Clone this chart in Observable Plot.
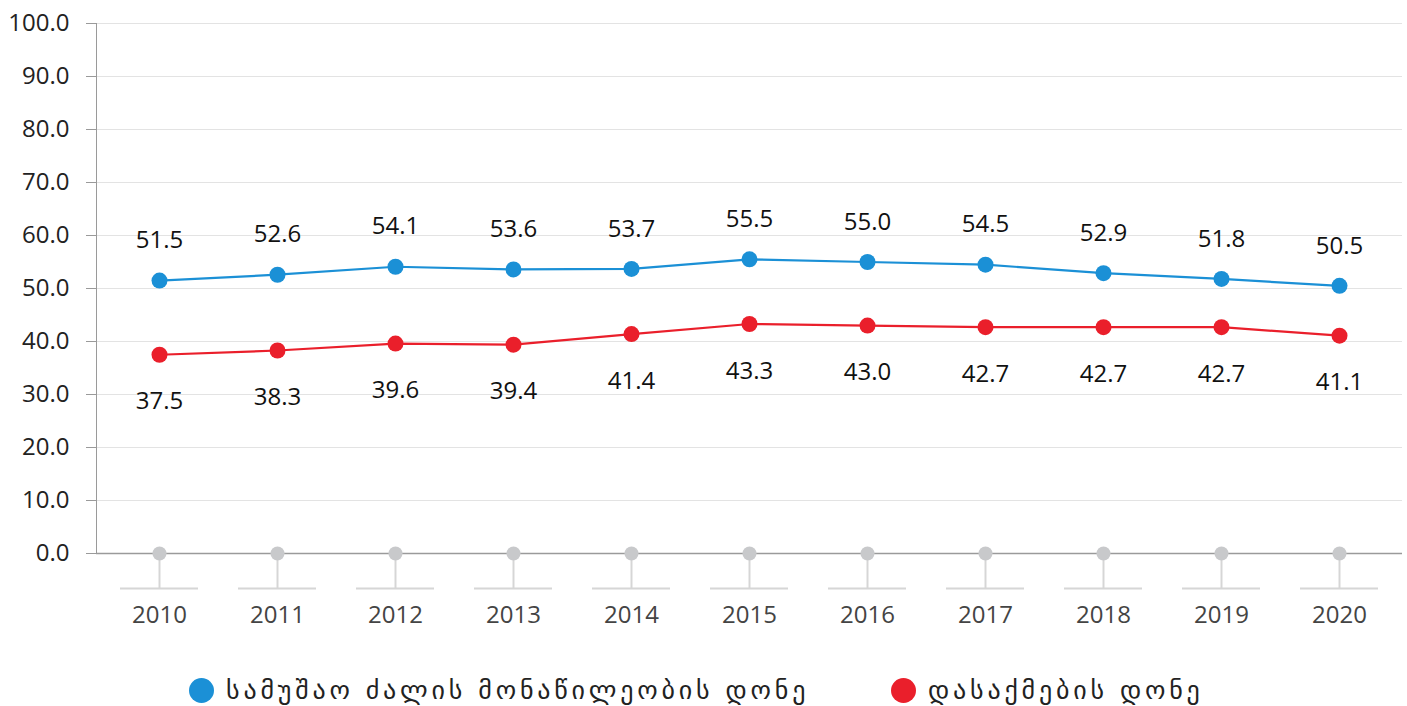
<!DOCTYPE html>
<html>
<head>
<meta charset="utf-8">
<script src="https://cdn.jsdelivr.net/npm/d3@7"></script>
<script src="https://cdn.jsdelivr.net/npm/@observablehq/plot@0.6"></script>
<style>
  html, body { margin: 0; padding: 0; background: #fff; }
  #chart { width: 1407px; }
  .legend { position: relative; height: 56px; font-family: "DejaVu Sans", "Noto Sans", sans-serif; font-size: 26px; letter-spacing: 3.8px; color: #222; }
  .item { position: absolute; top: 25px; display: flex; align-items: center; white-space: nowrap; }
  .sw { width: 25px; height: 25px; border-radius: 50%; margin-right: 12px; }
</style>
</head>
<body>
<div id="chart"></div>
<script>
const years = ["2010","2011","2012","2013","2014","2015","2016","2017","2018","2019","2020"];
const participation = [51.5, 52.6, 54.1, 53.6, 53.7, 55.5, 55.0, 54.5, 52.9, 51.8, 50.5];
const employment = [37.5, 38.3, 39.6, 39.4, 41.4, 43.3, 43.0, 42.7, 42.7, 42.7, 41.1];
const yTicks = [0, 10, 20, 30, 40, 50, 60, 70, 80, 90, 100];
const seriesNames = ["სამუშაო ძალის მონაწილეობის დონე", "დასაქმების დონე"];
const seriesColors = ["#1b90d6", "#ea1f2b"];

const blue = years.map((y, i) => ({year: y, value: participation[i]}));
const red = years.map((y, i) => ({year: y, value: employment[i]}));

const font = "'Open Sans', 'Noto Sans', sans-serif";

const chart = Plot.plot({
  width: 1407,
  height: 650,
  marginLeft: 96,
  marginRight: 5,
  marginTop: 23,
  marginBottom: 97,
  style: {fontFamily: font, fontSize: "24px", background: "#fff"},
  x: {type: "band", domain: years, paddingInner: 0, paddingOuter: 0},
  y: {domain: [0, 100]},
  marks: [
    Plot.ruleY(yTicks, {stroke: "#e3e3e3", strokeWidth: 1.2}),
    Plot.axisY({ticks: yTicks, tickFormat: d => d.toFixed(1), tickSize: 10, tickPadding: 17, stroke: "#9a9a9a", fill: "#222", fontSize: 24, label: null}),
    Plot.frame({anchor: "left", stroke: "#9a9a9a"}),
    Plot.ruleY([0], {stroke: "#9a9a9a", strokeWidth: 1.5}),
    Plot.ruleX(years, {x: d => d, y1: 0, y2: -6.6, stroke: "#d6d6d6", strokeWidth: 2}),
    Plot.tickY(years, {x: d => d, y: -6.6, stroke: "#d6d6d6", strokeWidth: 2, insetLeft: 20, insetRight: 20}),
    Plot.dot(years, {x: d => d, y: 0, r: 7, fill: "#c8c9cb"}),
    Plot.axisX({tickSize: 0, tickPadding: 52, fill: "#444", fontSize: 24, label: null}),
    Plot.lineY(blue, {x: "year", y: "value", stroke: seriesColors[0], strokeWidth: 2.2}),
    Plot.lineY(red, {x: "year", y: "value", stroke: seriesColors[1], strokeWidth: 2.2}),
    Plot.dot(blue, {x: "year", y: "value", r: 8, fill: seriesColors[0]}),
    Plot.dot(red, {x: "year", y: "value", r: 8, fill: seriesColors[1]}),
    Plot.text(blue, {x: "year", y: "value", text: d => d.value.toFixed(1), dy: -40, fill: "#111", fontSize: 24}),
    Plot.text(red, {x: "year", y: "value", text: d => d.value.toFixed(1), dy: 47, fill: "#111", fontSize: 24})
  ]
});
document.getElementById("chart").appendChild(chart);

const legend = document.createElement("div");
legend.className = "legend";
const lefts = [189, 891];
seriesNames.forEach((name, i) => {
  const item = document.createElement("div");
  item.className = "item";
  item.style.left = lefts[i] + "px";
  const sw = document.createElement("span");
  sw.className = "sw";
  sw.style.background = seriesColors[i];
  const t = document.createElement("span");
  t.textContent = name;
  item.appendChild(sw);
  item.appendChild(t);
  legend.appendChild(item);
});
document.getElementById("chart").appendChild(legend);
</script>
</body>
</html>
